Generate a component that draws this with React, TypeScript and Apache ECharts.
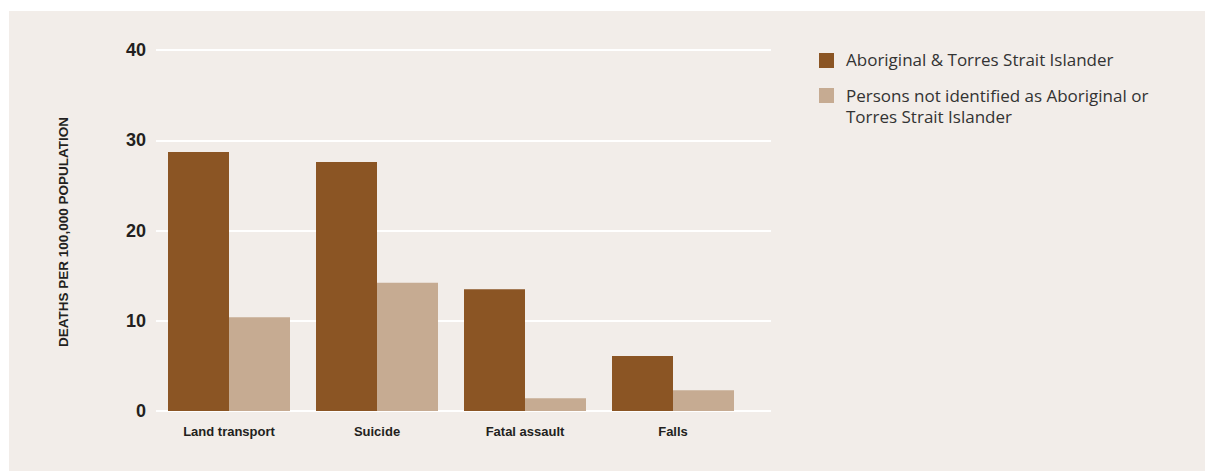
import React, { useEffect, useRef } from "react";
import * as echarts from "echarts";

const categories = ["Land transport", "Suicide", "Fatal assault", "Falls"];
const indigenous = [28.7, 27.6, 13.5, 6.1];
const nonIndigenous = [10.4, 14.2, 1.4, 2.3];
const seriesNames = [
  "Aboriginal & Torres Strait Islander",
  "Persons not identified as Aboriginal or Torres Strait Islander",
];
const legendLines = [
  ["Aboriginal & Torres Strait Islander"],
  ["Persons not identified as Aboriginal or", "Torres Strait Islander"],
];
const yTicks = { min: 0, max: 40, interval: 10 };
const yTitle = "DEATHS PER 100,000 POPULATION";

const DARK = "#8B5524";
const LIGHT = "#C6AB92";
const BG = "#F2EDE9";
const COND = '"Liberation Sans Narrow", "Arial Narrow", "Liberation Sans", Arial, sans-serif';
const REG = '"Open Sans", "Liberation Sans", Arial, sans-serif';

export default function App() {
  const ref = useRef<HTMLDivElement>(null);
  useEffect(() => {
    if (!ref.current) return;
    const chart = echarts.init(ref.current, null, { renderer: "svg" });
    const legendText = (text: string, y: number) => ({
      type: "text",
      x: 846,
      y,
      style: {
        text,
        fontFamily: REG,
        fontSize: 17,
        fill: "#333333",
        verticalAlign: "middle",
      },
    });
    chart.setOption({
      animation: false,
      backgroundColor: "transparent",
      grid: [
        { left: 155, top: 50, width: 592, height: 361 },
        { left: 156, top: 50, width: 615, height: 361 },
      ],
      xAxis: [
        {
          type: "category",
          gridIndex: 0,
          data: categories,
          axisLine: { show: false },
          axisTick: { show: false },
          axisLabel: {
            margin: 14,
            fontFamily: COND,
            fontWeight: "bold",
            fontSize: 13,
            color: "#231F20",
          },
        },
        { type: "value", gridIndex: 1, min: 0, max: 1, show: false },
      ],
      yAxis: [
        {
          type: "value",
          gridIndex: 0,
          min: yTicks.min,
          max: yTicks.max,
          interval: yTicks.interval,
          axisLabel: { show: false },
          splitLine: { show: false },
          axisLine: { show: false },
          axisTick: { show: false },
        },
        {
          type: "value",
          gridIndex: 1,
          min: yTicks.min,
          max: yTicks.max,
          interval: yTicks.interval,
          axisLine: { show: false },
          axisTick: { show: false },
          axisLabel: {
            margin: 10,
            fontFamily: COND,
            fontWeight: "bold",
            fontSize: 18,
            color: "#231F20",
          },
          splitLine: { show: true, lineStyle: { color: "#FFFFFF", width: 2 } },
        },
      ],
      series: [
        {
          name: seriesNames[0],
          type: "bar",
          xAxisIndex: 0,
          yAxisIndex: 0,
          data: indigenous,
          barWidth: 61,
          barGap: "0%",
          itemStyle: { color: DARK },
        },
        {
          name: seriesNames[1],
          type: "bar",
          xAxisIndex: 0,
          yAxisIndex: 0,
          data: nonIndigenous,
          barWidth: 61,
          barGap: "0%",
          itemStyle: { color: LIGHT },
        },
      ],
      graphic: [
        {
          type: "text",
          x: 63,
          y: 232,
          rotation: Math.PI / 2,
          style: {
            text: yTitle,
            fontFamily: COND,
            fontWeight: "bold",
            fontSize: 13.5,
            fill: "#231F20",
            align: "center",
            verticalAlign: "middle",
          },
        },
        { type: "rect", shape: { x: 819, y: 53, width: 15, height: 15 }, style: { fill: DARK } },
        legendText(legendLines[0][0], 59.5),
        { type: "rect", shape: { x: 819, y: 88, width: 15, height: 15 }, style: { fill: LIGHT } },
        legendText(legendLines[1][0], 95),
        legendText(legendLines[1][1], 116.5),
      ],
    });
    return () => chart.dispose();
  }, []);
  return (
    <div style={{ position: "absolute", left: 0, top: 0, width: 1205, height: 472, background: "#FFFFFF" }}>
      <div style={{ position: "absolute", left: 9, top: 11, width: 1196, height: 460, background: BG }} />
      <div ref={ref} style={{ position: "absolute", left: 0, top: 0, width: 1205, height: 472 }} />
    </div>
  );
}
